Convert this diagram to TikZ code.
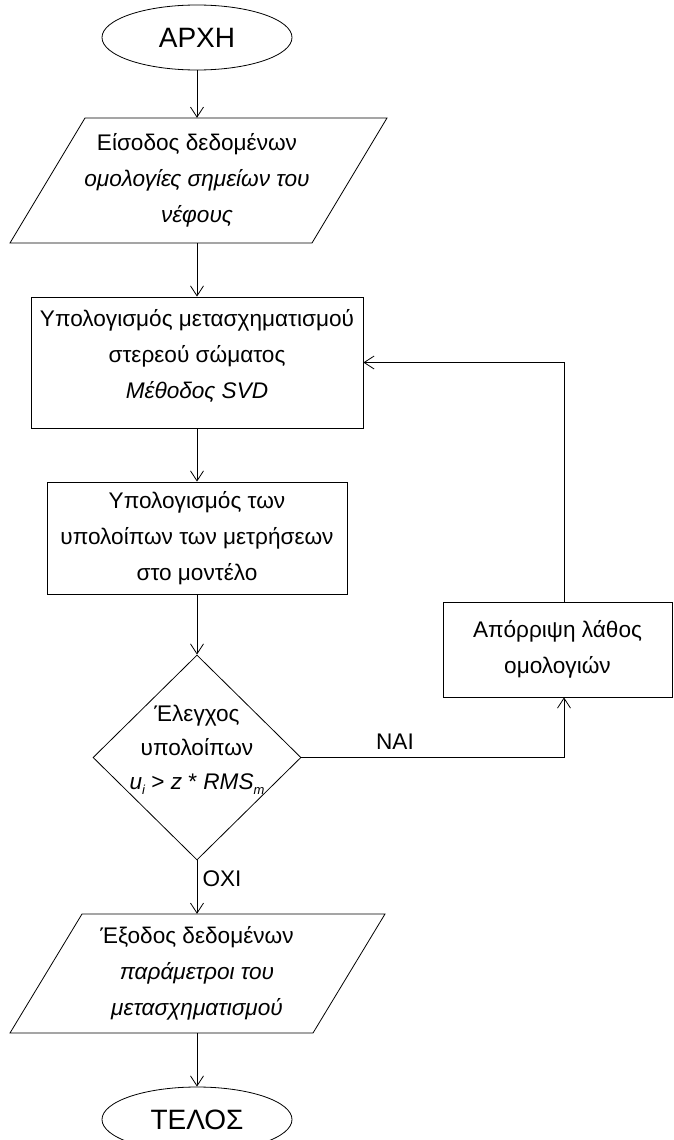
\documentclass[tikz,border=0pt]{standalone}
\usepackage{fontspec}
\setmainfont{Liberation Sans}
\usetikzlibrary{shapes.geometric,arrows.meta}
\begin{document}
\begin{tikzpicture}[x=1pt,y=-1pt,
  every node/.style={font=\fontsize{22.6}{36}\selectfont, align=center, inner sep=0pt},
  term/.style={draw, ellipse, line width=0.8pt, minimum width=190pt, minimum height=65pt,
    font=\fontsize{28}{30}\selectfont},
  procbox/.style={draw, rectangle, line width=0.8pt},
  iotext/.style={minimum width=230pt},
  decide/.style={draw, diamond, line width=0.8pt, minimum width=208pt, minimum height=205pt},
  outline/.style={line width=0.8pt},
  flow/.style={line width=0.8pt, -{Straight Barb[length=10pt,width=13pt,line width=0.8pt]}},
  link/.style={line width=0.8pt}
]
\useasboundingbox (0,0) rectangle (674,1140);

% terminals
\node[term] (start) at (197,37.5) {ΑΡΧΗ};
\node[term] (stop) at (197,1119.5) {ΤΕΛΟΣ};

% input parallelogram
\draw[outline] (85,118) -- (387,118) -- (312,243) -- (10,243) -- cycle;
\node[iotext, minimum height=125pt] (in) at (197,180.5)
  {Είσοδος δεδομένων\\ \textit{ομολογίες σημείων του}\\ \textit{νέφους}};

% processing boxes
\node[procbox, minimum width=332pt, minimum height=131pt] (svd) at (197,362.5) {};
\node (svdtxt) at (197,356) {Υπολογισμός μετασχηματισμού\\ στερεού σώματος\\ \textit{Μέθοδος SVD}};

\node[procbox, minimum width=300pt, minimum height=112pt] (res) at (197,538)
  {Υπολογισμός των\\ υπολοίπων των μετρήσεων\\ στο μοντέλο};

% decision
\node[decide] (chk) at (197,757.5) {};
\node[font=\fontsize{22.6}{34}\selectfont] (chktxt) at (197,750)
  {Έλεγχος\\ υπολοίπων\\ \textit{u}\raisebox{-0.2em}{\fontsize{13}{13}\selectfont\itshape i} > \textit{z} * \textit{RMS}\raisebox{-0.2em}{\fontsize{13}{13}\selectfont\itshape m}};

% rejection box
\node[procbox, minimum width=229pt, minimum height=95pt] (rej) at (557.5,649.5)
  {Απόρριψη λάθος\\ ομολογιών};

% output parallelogram
\draw[outline] (82,914) -- (385,914) -- (313,1033) -- (10,1033) -- cycle;
\node[iotext, minimum height=119pt] (out) at (197,973.5)
  {Έξοδος δεδομένων\\ \textit{παράμετροι του}\\ \textit{μετασχηματισμού}};

% connectors
\draw[flow] (start.south) -- (in.north);
\draw[flow] (in.south) -- (svd.north);
\draw[flow] (svd.south) -- (res.north);
\draw[flow] (res.south) -- (chk.north);
\draw[flow] (chk.east) -| ([xshift=6.5pt]rej.south);
\draw[flow] ([xshift=6.5pt]rej.north) |- (svd.east);
\draw[flow] (chk.south) -- (out.north);
\draw[flow] (out.south) -- (stop.north);

% branch labels
\node (yes) at (395,742) {ΝΑΙ};
\node (no) at (222,879) {ΟΧΙ};
\end{tikzpicture}
\end{document}
